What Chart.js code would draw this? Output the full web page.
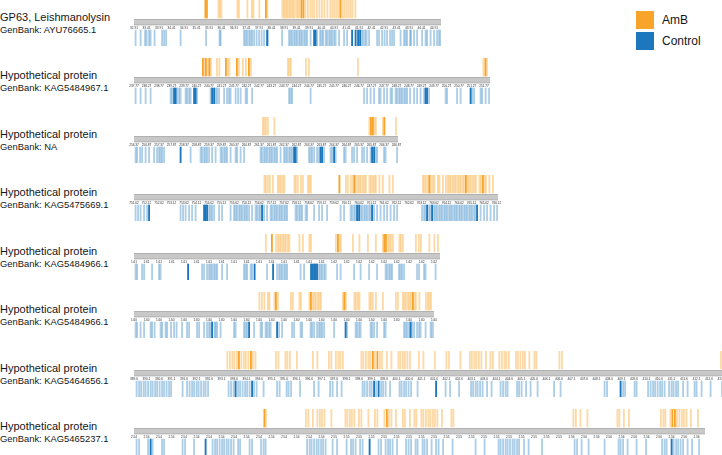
<!DOCTYPE html>
<html>
<head>
<meta charset="utf-8">
<script src="https://cdn.jsdelivr.net/npm/chart.js@4.4.1/dist/chart.umd.min.js"></script>
<style>
body { margin: 0; background: #fff; }
#fig { position: relative; width: 722px; height: 455px; overflow: hidden; font-family: "Liberation Sans", Arial, sans-serif; color: #161616; }
.name { position: absolute; left: 0; font-size: 11px; line-height: 11px; white-space: nowrap; }
.acc { position: absolute; left: 0; font-size: 9.4px; line-height: 10px; white-space: nowrap; }
canvas { position: absolute; }
.key { position: absolute; left: 636px; width: 18px; height: 18px; }
.keytxt { position: absolute; left: 662px; font-size: 12px; line-height: 18px; height: 18px; }
</style>
</head>
<body>
<div id="fig"></div>
<script>
const $ = e => document.querySelector(e);

// proteins
const names = ['GP63, Leishmanolysin', 'Hypothetical protein', 'Hypothetical protein', 'Hypothetical protein',
    'Hypothetical protein', 'Hypothetical protein', 'Hypothetical protein', 'Hypothetical protein'];
const accessions = ['GenBank: AYU76665.1', 'GenBank: KAG5484967.1', 'GenBank: NA', 'GenBank: KAG5475669.1',
    'GenBank: KAG5484966.1', 'GenBank: KAG5484966.1', 'GenBank: KAG5464656.1', 'GenBank: KAG5465237.1'];
const lengths = [614, 712, 528, 728, 612, 600, 1176, 1142];

// tick labels under each bar
const tickStart = [32.91, 237.77, 256.37, 751.62, 1.6075, 1.5975, 389.6, 2.5375];
const tickStep = [0.5, 0.5, 0.5, 0.5, 0.0005, 0.0001, 0.5, 0.0005];
const tickDec = [2, 2, 2, 2, 2, 2, 1, 2];
const tickEvery = 25;

// peptide positions (residues), AmB
const amb1 = [144,147,170,173,176,208,211,228,237,240,252,265,268,298,301,304,307,310,313,316,319,322,326,329,332,336,340,344,349,354,358,362,367,372,377,382,388,394,398,402,406,410,414,418,422,426,430,434,438,444];
const amb2 = [139,142,145,149,152,155,167,172,185,189,192,207,211,219,225,231,235,309,312,315,345,351,449,700,704,707];
const amb3 = [259,262,265,269,282,472,475,479,482,485,499,502,525];
const amb4 = [262,265,269,273,279,289,292,295,299,302,322,325,329,335,339,349,352,355,412,425,429,435,439,442,445,449,452,455,459,462,465,472,475,479,482,485,492,499,512,519,579,582,585,589,592,595,599,602,609,612,619,625,629,632,635,639,642,645,649,652,655,659,662,665,669,672,675,679,682,685,692,695,699,702,705,712,719];
const amb5 = [265,277,285,289,292,295,299,302,305,309,312,332,339,352,355,405,409,412,415,439,452,469,485,499,502,505,509,512,515,519,532,535,539,565,571,575,592,602,609];
const amb6 = [252,257,262,269,272,282,285,289,315,319,332,335,352,355,359,362,365,369,372,375,419,422,425,442,445,449,452,472,475,479,485,499,525,529,539,542,545,549,552,555,559,562,565,572,585,589,592,595];
const amb7 = [188,193,198,202,207,211,216,221,225,230,235,239,244,285,290,304,308,313,327,359,368,391,396,405,410,414,419,456,460,465,470,474,479,483,488,493,497,507,516,530,534,539,543,548,553,571,580,603,626,631,654,673,677,682,686,691,696,705,714,719,732,737,742,746,751,765,769,774,779,783,792,802,806,852,857,1175];
const amb8 = [262,265,345,350,359,368,373,377,382,396,424,428,433,437,442,451,456,470,483,488,502,507,511,516,525,539,543,553,562,566,576,580,585,590,594,599,603,608,617,636,640,880,885,894,908,968,972,981,991,1055,1060,1064,1074,1078,1083,1087,1092,1097,1101,1106,1115,1129];

// peptide positions (residues), Control
const ctrl1 = [2,12,21,24,29,32,40,55,59,63,92,143,170,172,219,222,225,229,232,235,239,244,249,254,259,265,267,295,309,312,315,319,322,325,329,332,335,339,342,345,352,359,362,365,371,374,377,382,385,389,392,395,399,402,409,419,425,435,442,447,451,454,457,461,464,469,485,489,495,500,505,511,515,519,532,539,542,545,551,553,559,565,575,582,585,592,599,605,609,612];
const ctrl2 = [2,12,22,32,72,75,79,82,85,89,92,102,105,109,112,119,122,125,152,155,159,162,165,169,179,185,189,192,202,207,212,222,225,235,309,312,315,352,459,465,472,479,489,492,499,505,512,515,522,525,529,532,535,539,542,545,551,559,565,572,579,582,585,589,622,625,645,652,672,675,679,692,695,702,709];
const ctrl3 = [2,5,11,15,22,29,39,45,49,52,55,59,92,112,132,135,139,142,145,149,155,162,172,175,179,182,185,192,202,205,212,219,252,255,259,262,265,269,272,275,279,282,285,292,299,302,305,309,312,315,319,322,325,349,352,355,359,365,369,372,375,379,392,395,399,402,419,422,435,439,445,455,459,465,472,475,479,482,485,499,502,525];
const ctrl4 = [2,7,12,19,25,29,92,97,102,109,115,122,139,142,145,149,152,155,159,169,175,192,199,202,205,209,212,215,219,222,225,229,235,242,245,249,252,255,259,265,272,275,279,282,285,289,292,295,299,302,305,322,325,329,332,335,342,345,359,369,375,385,412,419,432,435,439,442,445,449,452,455,459,462,465,469,472,475,479,485,492,499,505,512,519,525,575,579,582,585,589,592,595,599,602,605,609,612,615,619,622,625,629,632,635,639,642,645,649,652,655,659,662,665,669,672,675,679,682,685,692,699,705,712,719,725];
const ctrl5 = [2,5,15,19,35,49,52,107,135,139,145,149,152,155,159,162,165,175,185,219,222,225,232,235,240,265,277,285,289,292,295,299,302,305,332,339,353,356,359,362,365,369,372,375,379,382,405,412,439,452,469,485,502,505,509,512,515,529,532,535,539,565,569,579,582,602];
const ctrl6 = [2,5,12,19,32,35,40,52,55,62,65,73,79,84,95,105,109,125,129,139,145,149,152,155,160,162,165,172,199,202,219,222,225,229,239,252,255,262,265,269,272,285,289,295,315,319,332,335,352,355,359,365,369,372,375,379,399,422,425,442,445,449,452,472,475,479,485,499,502,539,542,545,549,552,555,559,565,569,572,582,592,595,599];
const ctrl7 = [4,9,13,18,22,27,32,36,41,45,50,55,59,64,69,73,96,105,110,115,119,124,128,133,138,142,147,188,193,198,202,207,211,216,221,225,230,235,239,244,258,285,290,304,308,313,331,359,368,391,396,405,414,456,460,465,470,474,479,483,488,493,497,502,511,530,534,539,543,548,553,566,603,622,631,649,673,677,682,686,691,696,705,714,732,737,742,746,765,769,774,783,792,806,839,852,940,945,972,977,981,1000,1004,1027,1032,1037,1041,1046,1051,1055,1060,1069,1074,1078,1083,1087,1097,1106,1120,1124,1134,1152,1175];
const ctrl8 = [4,9,27,32,36,55,59,96,101,119,142,156,161,165,170,175,179,184,188,193,198,207,211,230,235,253,258,262,345,350,354,359,364,368,373,377,382,396,405,424,433,437,442,451,456,470,488,493,502,507,511,516,525,543,548,553,562,566,576,580,585,594,603,608,617,636,682,700,728,732,737,742,746,751,756,760,765,769,779,788,815,880,885,894,908,940,968,972,977,986,1004,1023,1055,1060,1064,1074,1078,1083,1087,1092,1097,1106,1115,1129];

// stronger (more intense) peptides
const ambStrong = [[144,147,265,336,340,414], [139,145,152,185,207,231,704], [475,479,502], [412,442,592,665,699],
    [277,409,502,505], [285,355,422,559], [211,235,479,488], [262,507,1078,1083]];
const ctrlStrong = [[265,359,362,435,442,447,451], [79,82,119,122,155,159,582,585,672], [92,319,322,372,375,399,475,479],
    [29,139,142,145,255,445,449,475,585,595,685], [107,240,277,353,356,359,362,365], [155,229,285,422,552],
    [202,235,479,488,603,972], [32,142,470,1074]];

const amb = [amb1, amb2, amb3, amb4, amb5, amb6, amb7, amb8];
const ctrl = [ctrl1, ctrl2, ctrl3, ctrl4, ctrl5, ctrl6, ctrl7, ctrl8];

const ORANGE = '#F8A42A', ORANGE_LT = 'rgba(248,164,42,0.42)';
const BLUE = '#1C77BC', BLUE_LT = 'rgba(28,119,188,0.36)';
const PX = 0.5;   // pixels per residue
const PAD = 8;
const LEFT = 134;

const fig = $('#fig');

function addText(cls, txt, top) {
    const d = document.createElement('div');
    d.className = cls;
    d.textContent = txt;
    d.style.top = top + 'px';
    fig.appendChild(d);
}

function tickValues(len) {
    const out = [];
    for (let v = 0; v <= len; v += tickEvery) out.push({value: v});
    return out;
}

function makeRow(i) {
    const len = lengths[i];
    const barTop = 19.3 + i * 58.5;
    const mid = barTop + 2.75;

    addText('name', names[i], mid - 10.5);
    addText('acc', accessions[i], mid + 2.5);

    const cv = document.createElement('canvas');
    const w = Math.round(len * PX + 2 * PAD);
    cv.width = w; cv.height = 46;
    cv.style.width = w + 'px'; cv.style.height = '46px';
    cv.style.left = (LEFT - PAD) + 'px';
    cv.style.top = (barTop - 19.5) + 'px';
    fig.appendChild(cv);

    new Chart(cv, {
        type: 'bar',
        data: {
            datasets: [{
                type: 'line',
                data: [{x: -1.5, y: -2.75}, {x: len + 1.5, y: -2.75}],
                borderColor: '#8e8e8e', borderWidth: 6.2, pointRadius: 0, order: 3
            }, {
                type: 'line',
                data: [{x: 0, y: -2.75}, {x: len, y: -2.75}],
                borderColor: '#c8c8c8', borderWidth: 4.8, pointRadius: 0, order: 2
            }, {
                label: 'AmB',
                data: amb[i].map(p => ({x: p, y: [1.5, 19.5]})),
                backgroundColor: ctx => ambStrong[i].includes(ctx.raw.x) ? ORANGE : ORANGE_LT,
                barThickness: 1.2, order: 1
            }, {
                label: 'Control',
                data: ctrl[i].map(p => ({x: p, y: [-26.5, -10.5]})),
                backgroundColor: ctx => ctrlStrong[i].includes(ctx.raw.x) ? BLUE : BLUE_LT,
                barThickness: 1.2, order: 1
            }]
        },
        options: {
            responsive: false,
            animation: false,
            devicePixelRatio: 1,
            events: [],
            layout: {padding: {left: PAD, right: PAD, top: 0, bottom: 0}},
            plugins: {legend: {display: false}, tooltip: {enabled: false}},
            scales: {
                x: {
                    type: 'linear', min: 0, max: len, offset: false,
                    position: {y: -6.4},
                    grid: {display: false, drawTicks: false},
                    border: {display: false},
                    afterBuildTicks: s => { s.ticks = tickValues(len); },
                    ticks: {
                        autoSkip: false, maxRotation: 0, padding: 0, color: '#333',
                        font: {size: 3.2, family: 'Liberation Sans'},
                        callback: (v, k) => (tickStart[i] + k * tickStep[i]).toFixed(tickDec[i])
                    }
                },
                y: {type: 'linear', min: -26.5, max: 19.5, display: false}
            }
        }
    });
}

for (let i = 0; i < names.length; i++) makeRow(i);

// legend
[['AmB', ORANGE, 11], ['Control', BLUE, 32]].forEach(([t, c, y]) => {
    const k = document.createElement('div');
    k.className = 'key'; k.style.top = y + 'px'; k.style.background = c;
    fig.appendChild(k);
    const s = document.createElement('div');
    s.className = 'keytxt'; s.style.top = y + 'px'; s.textContent = t;
    fig.appendChild(s);
});
</script>
</body>
</html>
